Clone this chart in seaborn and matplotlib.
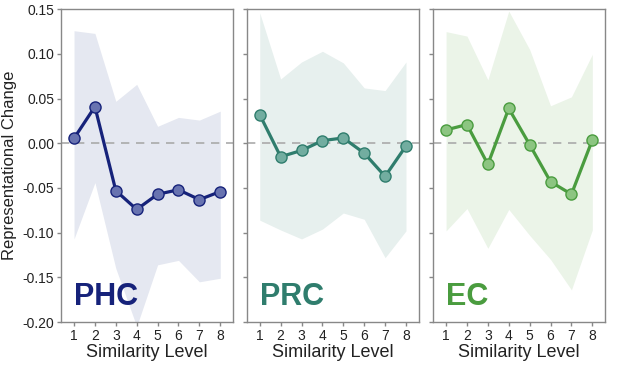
import matplotlib
matplotlib.use("Agg")
import matplotlib.pyplot as plt
import seaborn as sns
import pandas as pd
import numpy as np

levels = [1, 2, 3, 4, 5, 6, 7, 8]

phc_mean = [0.0056, 0.041, -0.053, -0.074, -0.057, -0.052, -0.063, -0.054]
phc_upper = [0.126, 0.123, 0.047, 0.066, 0.019, 0.029, 0.026, 0.036]
phc_lower = [-0.107, -0.044, -0.14, -0.205, -0.136, -0.131, -0.155, -0.151]

prc_mean = [0.032, -0.015, -0.008, 0.003, 0.006, -0.011, -0.037, -0.003]
prc_upper = [0.146, 0.072, 0.091, 0.103, 0.090, 0.062, 0.059, 0.091]
prc_lower = [-0.086, -0.097, -0.107, -0.096, -0.078, -0.085, -0.128, -0.098]

ec_mean = [0.015, 0.021, -0.0235, 0.039, -0.0015, -0.043, -0.057, 0.0037]
ec_upper = [0.125, 0.120, 0.071, 0.148, 0.105, 0.042, 0.052, 0.0996]
ec_lower = [-0.098, -0.073, -0.1175, -0.074, -0.103, -0.130, -0.164, -0.097]

regions = ["PHC", "PRC", "EC"]
line_colors = ["#16227a", "#2f7d6d", "#4a9c3f"]
face_colors = ["#6873b0", "#72ada0", "#8cc581"]
band_colors = ["#e5e8f1", "#e7f0ee", "#ebf4e8"]

sns.set_style("ticks")
plt.rcParams['font.family'] = ['Liberation Sans', 'DejaVu Sans']

fig = plt.figure(figsize=(6.17, 3.71), dpi=100)
lefts = [0.099, 0.400, 0.702]
axes = [fig.add_axes([l, 0.132, 0.279, 0.843]) for l in lefts]

data = [(phc_mean, phc_upper, phc_lower),
        (prc_mean, prc_upper, prc_lower),
        (ec_mean, ec_upper, ec_lower)]

for i, ax in enumerate(axes):
    m, up, lo = data[i]
    df = pd.DataFrame({"Similarity Level": levels, "Change": m})
    ax.fill_between(levels, lo, up, color=band_colors[i], linewidth=0, zorder=1)
    ax.axhline(0, color="#aaaaaa", linestyle=(0, (5, 4)), linewidth=1.2, zorder=2)
    sns.lineplot(data=df, x="Similarity Level", y="Change", ax=ax,
                 color=line_colors[i], linewidth=2.3, marker="o", markersize=8,
                 markerfacecolor=face_colors[i], markeredgecolor=line_colors[i],
                 markeredgewidth=1.0, zorder=3)
    ax.set_xlim(0.38, 8.62)
    ax.set_ylim(-0.20, 0.15)
    ax.set_xticks(levels)
    ax.set_yticks([-0.20, -0.15, -0.10, -0.05, 0.0, 0.05, 0.10, 0.15])
    ax.set_xlabel("Similarity Level", fontsize=13, labelpad=1, color="#222222")
    for s in ax.spines.values():
        s.set_color("#888888")
        s.set_linewidth(1.0)
    ax.tick_params(axis="both", colors="#888888", labelcolor="#222222",
                   labelsize=10, length=3, width=1.0, pad=2)
    if i == 0:
        ax.set_ylabel("Representational Change", fontsize=12, labelpad=4, color="#222222")
        ax.set_yticklabels(["-0.20", "-0.15", "-0.10", "-0.05", "0.00", "0.05", "0.10", "0.15"])
    else:
        ax.set_ylabel("")
        ax.set_yticklabels([])
    ax.text(0.075, 0.055, regions[i], transform=ax.transAxes, fontsize=22,
            fontweight="bold", color=line_colors[i], ha="left", va="baseline",
            zorder=4)

fig.savefig("out.png", dpi=100)
